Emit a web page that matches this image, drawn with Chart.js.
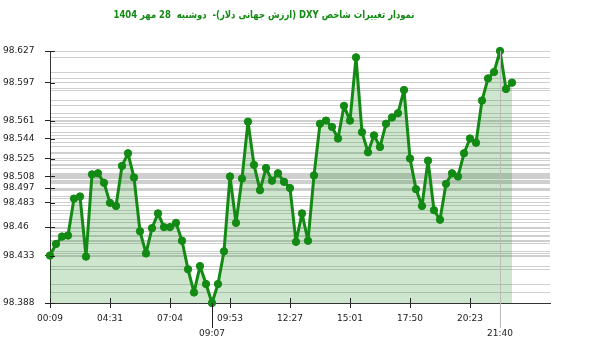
<!DOCTYPE html>
<html><head><meta charset="utf-8">
<script src="https://cdn.jsdelivr.net/npm/chart.js@4"></script>
<style>html,body{margin:0;padding:0;background:#fff}#wrap{width:600px;height:352px;position:relative}</style>
</head><body><div id="wrap"><canvas id="c" width="600" height="352"></canvas></div>
<script>
const titleText = 'نمودار تغییرات شاخص DXY (ارزش جهانی دلار)-  دوشنبه  28 مهر 1404';
const values = [98.433,98.444,98.451,98.452,98.487,98.489,98.432,98.510,98.511,98.502,
98.483,98.480,98.518,98.530,98.507,98.456,98.435,98.459,98.473,98.460,
98.460,98.464,98.447,98.420,98.398,98.423,98.406,98.388,98.406,98.437,
98.508,98.464,98.506,98.560,98.519,98.495,98.516,98.504,98.511,98.503,
98.497,98.446,98.473,98.447,98.509,98.558,98.561,98.555,98.544,98.575,
98.561,98.621,98.550,98.531,98.547,98.536,98.558,98.564,98.568,98.590,
98.525,98.496,98.480,98.523,98.476,98.467,98.501,98.511,98.508,98.530,
98.544,98.540,98.580,98.601,98.607,98.627,98.591,98.597];
const xTickIndex = [0,10,20,30,40,50,60,70];
const xTickLabels = ['00:09','04:31','07:04','09:53','12:27','15:01','17:50','20:23'];
const minIndex = 27, minLabel = '09:07';
const maxIndex = 75, maxLabel = '21:40';
const yTickValues = [98.627,98.597,98.561,98.544,98.525,98.508,98.497,98.483,98.46,98.433,98.388];
const yMin = 98.388, yMax = 98.627;

const GREEN = '#138a13';
const labelMap = {};
xTickIndex.forEach((v,i)=>labelMap[v]=xTickLabels[i]);
labelMap[minIndex] = ['', minLabel];
labelMap[maxIndex] = ['', maxLabel];
const special = [minIndex, maxIndex];

const extras = {
  id:'extras',
  afterDraw(chart){
    const {ctx, scales:{x,y}, chartArea:a} = chart;
    ctx.save();
    ctx.strokeStyle = '#222'; ctx.lineWidth = 1;
    yTickValues.forEach(v=>{
      const py = Math.round(y.getPixelForValue(v))+0.5;
      ctx.beginPath(); ctx.moveTo(a.left, py); ctx.lineTo(a.left+5, py); ctx.stroke();
    });
    xTickIndex.forEach(v=>{
      const px = Math.round(x.getPixelForValue(v))+0.5;
      ctx.beginPath(); ctx.moveTo(px, a.bottom); ctx.lineTo(px, a.bottom-5); ctx.stroke();
    });
    let px = Math.round(x.getPixelForValue(minIndex))+0.5;
    ctx.strokeStyle = '#222';
    ctx.beginPath(); ctx.moveTo(px, y.getPixelForValue(values[minIndex])); ctx.lineTo(px, a.bottom+25); ctx.stroke();
    px = Math.round(x.getPixelForValue(maxIndex))+0.5;
    ctx.strokeStyle = '#bbbbbb';
    ctx.beginPath(); ctx.moveTo(px, y.getPixelForValue(values[maxIndex])); ctx.lineTo(px, a.bottom+25); ctx.stroke();
    ctx.restore();
  }
};
const titlePlugin = {
  id:'ttl',
  afterDraw(chart){
    const ctx = chart.ctx;
    ctx.save();
    ctx.translate(264, 15);
    ctx.scale(0.94, 1.05);
    ctx.font = 'bold 10px "DejaVu Sans Condensed", "DejaVu Sans"';
    ctx.fillStyle = GREEN;
    ctx.direction = 'rtl';
    ctx.textAlign = 'center';
    ctx.textBaseline = 'middle';
    ctx.fillText(titleText, 0, 0);
    ctx.restore();
  }
};

new Chart(document.getElementById('c'), {
  type:'line',
  data:{ datasets:[{
    data: values.map((v,i)=>({x:i,y:v})),
    borderColor: GREEN, backgroundColor:'rgba(34,139,34,0.22)',
    borderWidth:3, borderJoinStyle:'round', borderCapStyle:'round',
    pointRadius:3.7, pointBackgroundColor:GREEN, pointBorderColor:GREEN,
    pointBorderWidth:1, fill:'start', tension:0, clip:false
  }]},
  options:{
    responsive:false, animation:false,
    layout:{padding:{top:51,right:50,left:3,bottom:0}},
    plugins:{legend:{display:false}, tooltip:{enabled:false}, title:{display:false}},
    scales:{
      x:{ type:'linear', min:0, max:500/6,
        afterBuildTicks(s){ s.ticks = xTickIndex.concat(special).map(v=>({value:v})); },
        afterFit(s){ s.height = 49; },
        ticks:{ autoSkip:false, maxRotation:0, padding:3, color:'#222',
          font:{family:'DejaVu Sans', size:9, lineHeight:1.7},
          callback:(v)=>labelMap[v] },
        grid:{ drawOnChartArea:false, tickLength:5,
          tickColor:(c)=> special.includes(c.tick && c.tick.value) ? 'rgba(0,0,0,0)' : '#222' },
        border:{ color:'#333', width:1 }
      },
      yg:{ type:'linear', position:'left', min:yMin, max:yMax,
        afterBuildTicks(s){ s.ticks = Array.from(new Set(values)).map(v=>({value:v})); },
        afterFit(s){ s.width = 0; },
        ticks:{ display:false }, grid:{ color:'#cfcfcf', lineWidth:1, drawTicks:false },
        border:{ display:false }
      },
      y:{ type:'linear', position:'left', min:yMin, max:yMax,
        afterBuildTicks(s){ s.ticks = yTickValues.map(v=>({value:v})); },
        afterFit(s){ s.width = 47; },
        ticks:{ autoSkip:false, crossAlign:'far', color:'#222', padding:4,
          font:{family:'DejaVu Sans', size:9}, callback:(v)=>String(v) },
        grid:{ drawOnChartArea:false, tickLength:5, tickColor:'#222' },
        border:{ color:'#333', width:1 }
      }
    }
  },
  plugins:[extras, titlePlugin]
});
</script></body></html>
